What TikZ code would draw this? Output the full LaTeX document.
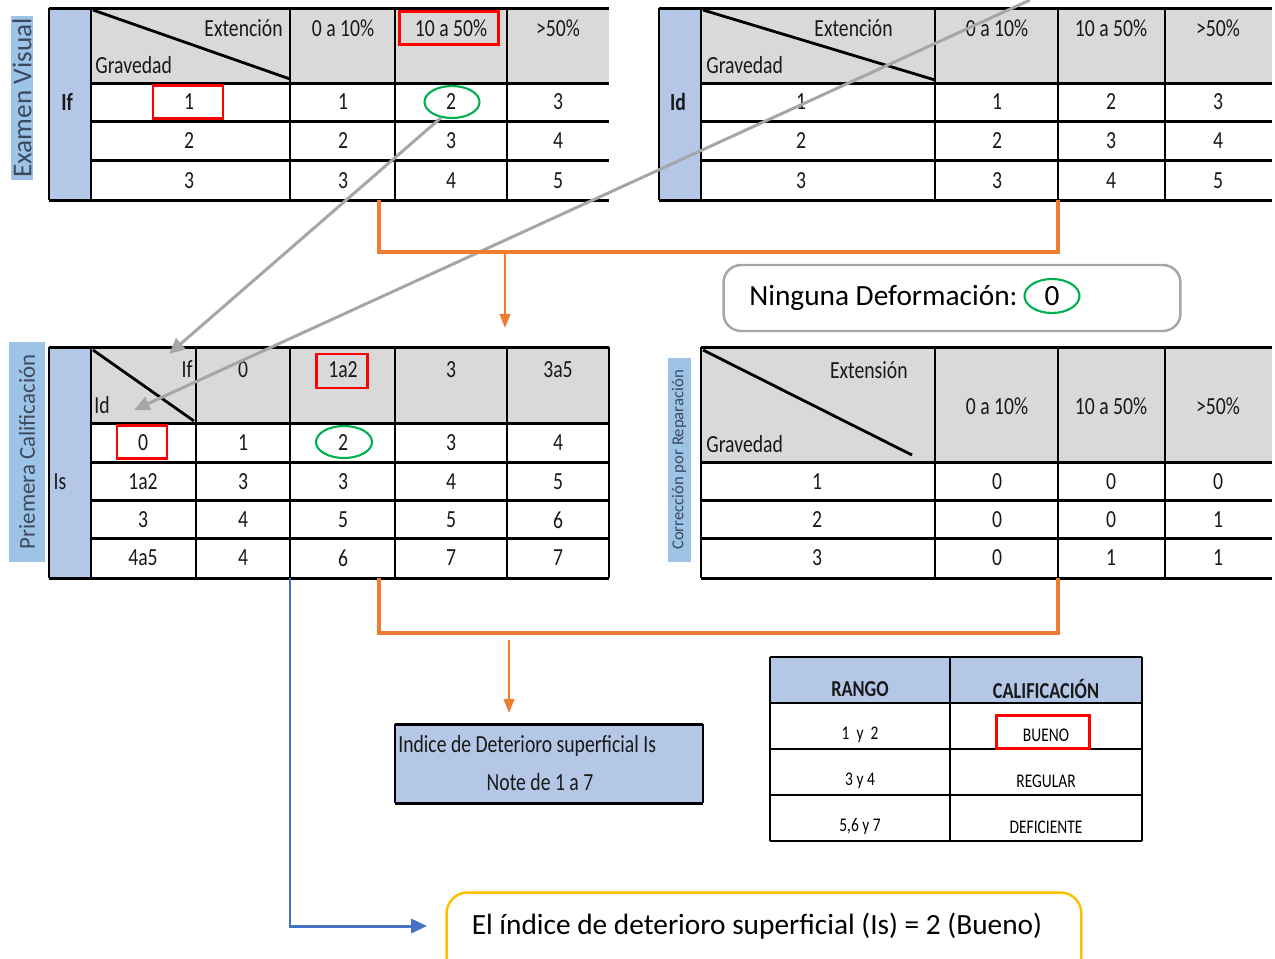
\documentclass[tikz,border=0pt]{standalone}
\usepackage{fontspec}
\setmainfont{Carlito}
\newfontfamily\narrowfont[FakeStretch=0.8]{Carlito}
\usetikzlibrary{arrows.meta,shapes.geometric}

\definecolor{hdrgray}{HTML}{D9D9D9}
\definecolor{sideblue}{HTML}{B4C7E7}
\definecolor{labelblue}{HTML}{9DC3E6}
\definecolor{labeltext}{HTML}{3B4A5E}
\definecolor{brorange}{HTML}{ED7D31}
\definecolor{linkblue}{HTML}{4472C4}
\definecolor{okgreen}{HTML}{00B050}
\definecolor{boxyellow}{HTML}{FFC000}
\definecolor{pointgray}{HTML}{A6A6A6}

\tikzset{
    cell/.style={font=\narrowfont\fontsize{14}{16}\selectfont,inner sep=0pt,text=black!90},
    boldcell/.style={cell,font=\narrowfont\bfseries\fontsize{14}{16}\selectfont},
    small/.style={font=\narrowfont\fontsize{11}{13}\selectfont,inner sep=0pt},
    hrule/.style={line width=1.7pt},
    vrule/.style={line width=0.8pt},
    diag/.style={line width=1.6pt},
    vlabel/.style={fill=labelblue,text=labeltext,rotate=90,inner sep=0pt},
    redbox/.style={draw=red,line width=1.2pt,inner sep=0pt},
    greenring/.style={draw=okgreen,line width=1.2pt,ellipse,inner sep=0pt},
    pointer/.style={pointgray,line width=1.7pt,-{Triangle[length=9pt,width=8pt]}},
    bracket/.style={brorange,line width=1.8pt},
    drop/.style={brorange,line width=1.3pt,-{Triangle[length=8pt,width=6pt]}}
}

\begin{document}
\begin{tikzpicture}[x=0.02cm,y=-0.02cm]
    \useasboundingbox (0,0) rectangle (1275,958);

    %% Examen visual: If
    \node[vlabel,minimum width=3.3cm,minimum height=0.46cm,font=\fontsize{15.5}{17}\selectfont] (evLab) at (22,98) {Examen Visual};
    \fill[sideblue] (49,8) rectangle (91,200);
    \fill[hdrgray] (91,8) rectangle (609,83);
    \draw[hrule] (49,8) -- (609,8) (49,200) -- (609,200);
    \foreach \y in {83,121,160} \draw[hrule] (91,\y) -- (609,\y);
    \foreach \x in {49,91,290,395,507} \draw[vrule] (\x,8) -- (\x,200);
    \draw[diag] (93,10) -- (290,79);
    \node[cell,anchor=east] (ifExt) at (283,28) {Extención};
    \node[cell,anchor=west] (ifGrav) at (95,65) {Gravedad};
    \foreach \x/\t [count=\i] in {343/0 a 10\%,451/10 a 50\%,558/>50\%}
        \node[cell] (ifh\i) at (\x,28) {\t};
    \foreach \y/\a/\b/\c/\d [count=\i] in {102/1/1/2/3,141/2/2/3/4,181/3/3/4/5} {
        \node[cell] (if\i a) at (189,\y) {\a};
        \node[cell] (if\i b) at (343,\y) {\b};
        \node[cell] (if\i c) at (451,\y) {\c};
        \node[cell] (if\i d) at (558,\y) {\d};
    }
    \node[boldcell] (ifName) at (67,102) {If};
    \node[redbox,minimum width=1.98cm,minimum height=0.66cm] (ifColBox) at (449,28) {};
    \node[redbox,minimum width=1.4cm,minimum height=0.66cm] (ifRowBox) at (188,102) {};
    \node[greenring,minimum width=1.1cm,minimum height=0.64cm] (ifHit) at (452,102) {};

    %% Examen visual: Id
    \fill[sideblue] (659,8) rectangle (701,200);
    \fill[hdrgray] (701,8) rectangle (1272,83);
    \draw[hrule] (659,8) -- (1272,8) (659,200) -- (1272,200);
    \foreach \y in {83,121,160} \draw[hrule] (701,\y) -- (1272,\y);
    \foreach \x in {659,701,935,1058,1165} \draw[vrule] (\x,8) -- (\x,200);
    \draw[diag] (703,10) -- (935,80);
    \node[cell,anchor=east] (idExt) at (893,28) {Extención};
    \node[cell,anchor=west] (idGrav) at (706,65) {Gravedad};
    \foreach \x/\t [count=\i] in {997/0 a 10\%,1111/10 a 50\%,1218/>50\%}
        \node[cell] (idh\i) at (\x,28) {\t};
    \foreach \y/\a/\b/\c/\d [count=\i] in {102/1/1/2/3,141/2/2/3/4,181/3/3/4/5} {
        \node[cell] (id\i a) at (801,\y) {\a};
        \node[cell] (id\i b) at (997,\y) {\b};
        \node[cell] (id\i c) at (1111,\y) {\c};
        \node[cell] (id\i d) at (1218,\y) {\d};
    }
    \node[boldcell] (idName) at (678,102) {Id};

    %% Ninguna deformacion
    \node[draw=pointgray,line width=1.4pt,rounded corners=10pt,minimum width=9.14cm,minimum height=1.32cm] (ninBox) at (952,298) {};
    \node[anchor=west,inner sep=0pt,font=\fontsize{16.7}{19}\selectfont] (ninText) at (749,298) {Ninguna Deformación:};
    \node[greenring,minimum width=1.1cm,minimum height=0.68cm,font=\fontsize{16.7}{19}\selectfont] (ninZero) at (1052,296) {0};

    %% Primera calificacion: Is
    \node[vlabel,minimum width=4.4cm,minimum height=0.72cm,font=\fontsize{13}{15}\selectfont] (pcLab) at (27,452) {Priemera Calificación};
    \fill[sideblue] (49,347) rectangle (91,578);
    \fill[hdrgray] (91,347) rectangle (609,423);
    \draw[hrule] (49,347) -- (609,347) (49,578) -- (609,578);
    \foreach \y in {423,462,500,538} \draw[hrule] (91,\y) -- (609,\y);
    \foreach \x in {49,91,196,290,395,507,609} \draw[vrule] (\x,347) -- (\x,578);
    \draw[diag] (93,350) -- (194,421);
    \node[cell,anchor=east] (isIf) at (193,369) {If};
    \node[cell,anchor=west] (isId) at (94,405) {Id};
    \foreach \x/\t [count=\i] in {243/0,343/1a2,451/3,558/3a5}
        \node[cell] (ish\i) at (\x,370) {\t};
    \foreach \y/\a/\b/\c/\d/\e [count=\i] in {443/0/1/2/3/4,482/1a2/3/3/4/5,520/3/4/5/5/6,558/4a5/4/6/7/7} {
        \node[cell] (is\i a) at (143,\y) {\a};
        \node[cell] (is\i b) at (243,\y) {\b};
        \node[cell] (is\i c) at (343,\y) {\c};
        \node[cell] (is\i d) at (451,\y) {\d};
        \node[cell] (is\i e) at (558,\y) {\e};
    }
    \node[cell] (isName) at (60,482) {Is};
    \node[redbox,minimum width=1.02cm,minimum height=0.68cm] (isColBox) at (342,371) {};
    \node[redbox,minimum width=1.0cm,minimum height=0.66cm] (isRowBox) at (142,442) {};
    \node[greenring,minimum width=1.12cm,minimum height=0.64cm] (isHit) at (344,442) {};

    %% Correccion por reparacion
    \node[vlabel,minimum width=4.08cm,minimum height=0.46cm,font=\fontsize{9.5}{11}\selectfont] (crLab) at (679,460) {Corrección por Reparación};
    \fill[hdrgray] (701,347) rectangle (1272,462);
    \foreach \y in {347,462,500,538,578} \draw[hrule] (701,\y) -- (1272,\y);
    \foreach \x in {701,935,1058,1165} \draw[vrule] (\x,347) -- (\x,578);
    \draw[diag] (703,350) -- (912,455);
    \node[cell,anchor=east] (crExt) at (908,370) {Extensión};
    \node[cell,anchor=west] (crGrav) at (706,444) {Gravedad};
    \foreach \x/\t [count=\i] in {997/0 a 10\%,1111/10 a 50\%,1218/>50\%}
        \node[cell] (crh\i) at (\x,406) {\t};
    \foreach \y/\a/\b/\c/\d [count=\i] in {482/1/0/0/0,520/2/0/0/1,558/3/0/1/1} {
        \node[cell] (cr\i a) at (817,\y) {\a};
        \node[cell] (cr\i b) at (997,\y) {\b};
        \node[cell] (cr\i c) at (1111,\y) {\c};
        \node[cell] (cr\i d) at (1218,\y) {\d};
    }

    %% Indice de deterioro
    \fill[sideblue] (395,724) rectangle (703,803);
    \draw[vrule] (395,724) -- (395,803) (703,724) -- (703,803);
    \draw[hrule] (395,724) -- (703,724) (395,803) -- (703,803);
    \node[cell,anchor=west] (idxA) at (398,746) {Indice de Deterioro superficial Is};
    \node[cell] (idxB) at (540,782) {Note de 1 a 7};

    %% Rango / calificacion
    \fill[sideblue] (770,657) rectangle (1142,703);
    \draw[line width=1.4pt] (770,657) -- (1142,657);
    \foreach \y in {703,749,795,841} \draw[line width=1.1pt] (770,\y) -- (1142,\y);
    \foreach \x in {770,950,1142} \draw[vrule] (\x,657) -- (\x,841);
    \node[boldcell,font=\narrowfont\bfseries\fontsize{13}{15}\selectfont] (rgH) at (860,689) {RANGO};
    \node[boldcell,font=\narrowfont\bfseries\fontsize{13}{15}\selectfont] (calH) at (1046,689) {CALIFICACIÓN};
    \foreach \y/\a/\b [count=\i] in {735/1~~y~~2/BUENO,781/3 y 4/REGULAR,827/{5,6 y 7}/DEFICIENTE} {
        \node[small] (rg\i) at (860,\y) {\a};
        \node[small] (cal\i) at (1046,\y) {\b};
    }
    \node[redbox,minimum width=1.86cm,minimum height=0.66cm] (calBox) at (1043,732) {};

    %% Resultado
    \node[draw=boxyellow,line width=1.4pt,rounded corners=12pt,minimum width=12.7cm,minimum height=1.7cm] (finBox) at (764,935) {};
    \node[inner sep=0pt,font=\fontsize{16.7}{19}\selectfont] (finText) at (757,926) {El índice de deterioro superficial (Is) = 2 (Bueno)};

    %% Connectors
    \coordinate (ifTip) at (169,354);
    \coordinate (idSrc) at (1030,0);
    \coordinate (idTip) at (134,410);
    \draw[pointer] (ifHit.235) -- (ifTip);
    \draw[pointer] (idSrc) -- (idTip);

    \coordinate (ifFoot) at (379,200);
    \coordinate (idFoot) at (1058,200);
    \coordinate (topJoin) at (505,252);
    \coordinate (isTop) at (505,328);
    \draw[bracket] (ifFoot) -- ++(0,52) -| (idFoot);
    \draw[drop] (topJoin) -- (isTop);

    \coordinate (isFoot) at (379,578);
    \coordinate (crFoot) at (1058,578);
    \coordinate (botJoin) at (509,640);
    \coordinate (idxTop) at (509,713);
    \draw[bracket] (isFoot) -- ++(0,55) -| (crFoot);
    \draw[drop] (botJoin) -- (idxTop);

    \coordinate (isLeft) at (290,578);
    \coordinate (finTip) at (427,926);
    \draw[linkblue,line width=1.7pt,-{Triangle[length=9pt,width=8pt]}] (isLeft) |- (finTip);
\end{tikzpicture}
\end{document}
